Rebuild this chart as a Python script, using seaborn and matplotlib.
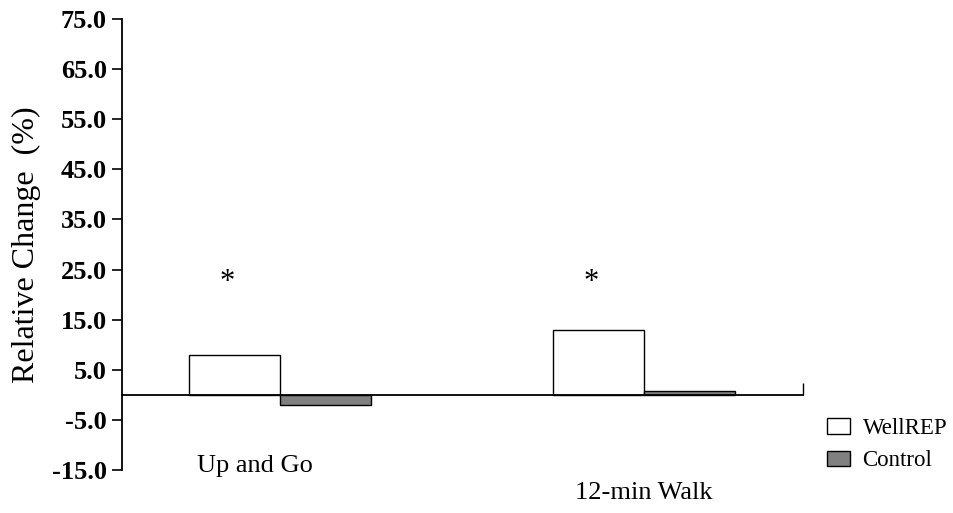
import pandas as pd
import seaborn as sns
import matplotlib.pyplot as plt
from matplotlib.transforms import blended_transform_factory

categories = ["Up and Go", "12-min Walk"]
groups = ["WellREP", "Control"]
wellrep = [8.0, 13.0]
control = [-2.0, 0.7]
significant = [True, True]
y_ticks = [-15, -5, 5, 15, 25, 35, 45, 55, 65, 75]

df = pd.DataFrame({
    "test": categories * 2,
    "group": ["WellREP"] * len(categories) + ["Control"] * len(categories),
    "change": wellrep + control,
})

sns.set_theme(style="white")
plt.rcParams["font.family"] = ["Liberation Serif", "DejaVu Serif"]
plt.rcParams["text.color"] = "black"
plt.rcParams["ytick.color"] = "black"
plt.rcParams["axes.labelcolor"] = "black"

fig = plt.figure(figsize=(9.54, 5.13), dpi=100)
ax = fig.add_axes([122 / 954, 1 - 470 / 513, (803 - 122) / 954, (470 - 19) / 513])

sns.barplot(
    data=df, x="test", y="change", hue="group", hue_order=groups,
    palette={"WellREP": "white", "Control": "#808080"},
    edgecolor="black", linewidth=1, width=0.5, ax=ax, legend=True,
)

ax.set_xlim(-0.434, 1.437)
ax.set_ylim(-15, 75)
ax.set_yticks(y_ticks)
ax.set_yticklabels([f"{v:.1f}" for v in y_ticks], fontsize=19, fontweight="bold")
ax.tick_params(axis="y", direction="out", length=7, width=1.2, color="black",
               labelcolor="black", pad=4, left=True)

for s in ["top", "right"]:
    ax.spines[s].set_visible(False)
ax.spines["left"].set_color("black")
ax.spines["left"].set_linewidth(1.3)
ax.spines["bottom"].set_position(("data", 0))
ax.spines["bottom"].set_color("black")
ax.spines["bottom"].set_linewidth(1.3)

ax.set_xticks([])
ax.set_xticks([1.437], minor=True)
ax.tick_params(axis="x", which="minor", direction="in", length=9, width=1, color="black", bottom=True)
ax.set_xlabel("")
ax.set_ylabel("Relative Change  (%)", fontsize=23, labelpad=8)

# category labels below the plot, second one a bit lower
trans = blended_transform_factory(ax.transData, fig.transFigure)
label_y = [1 - 466 / 513, 1 - 493 / 513]
label_dx = [-0.07, 0.0]
for i, name in enumerate(categories):
    ax.text(i + label_dx[i], label_y[i], name, transform=trans, ha="center", va="center", fontsize=19)

# significance marks above the WellREP bars
for i, sig in enumerate(significant):
    if sig:
        ax.text(i - 0.145, 22.5, "*", ha="center", va="center", fontsize=22)

leg = ax.legend(
    loc="upper left", bbox_to_anchor=(827 / 954, 1 - 418 / 513), bbox_transform=fig.transFigure,
    frameon=False, fontsize=16.5, handlelength=1.0, handleheight=0.65,
    handletextpad=0.55, labelspacing=0.5, borderaxespad=0, borderpad=0,
)

fig.savefig("out.png", dpi=100)
